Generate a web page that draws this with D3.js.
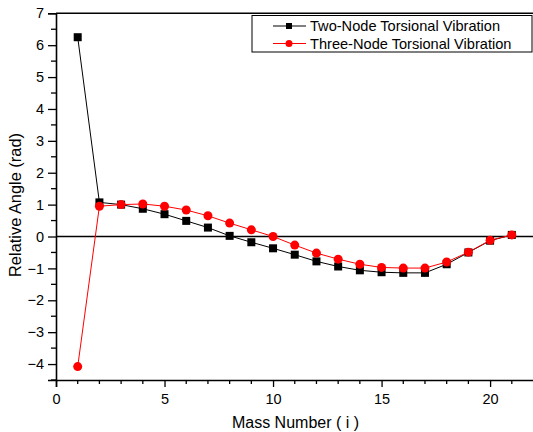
<!DOCTYPE html>
<html>
<head>
<meta charset="utf-8">
<script src="https://cdn.jsdelivr.net/npm/d3@7"></script>
<style>
  body { margin: 0; background: #fff; }
  svg { font-family: "Liberation Sans", Arial, sans-serif; }
</style>
</head>
<body>
<div id="chart"></div>
<script>
// mass numbers and the two vibration modes
const massNumbers = d3.range(1, 22);
const twoNode = [6.25, 1.07, 1.0, 0.87, 0.70, 0.49, 0.28, 0.02, -0.18, -0.37, -0.57, -0.78, -0.94, -1.06, -1.12, -1.14, -1.14, -0.87, -0.50, -0.13, 0.05];
const threeNode = [-4.08, 0.95, 1.0, 1.02, 0.95, 0.83, 0.65, 0.42, 0.21, 0.0, -0.27, -0.52, -0.71, -0.87, -0.97, -0.99, -0.99, -0.80, -0.49, -0.12, 0.05];
const xTicks = [0, 5, 10, 15, 20];
const yTicks = [-4, -3, -2, -1, 0, 1, 2, 3, 4, 5, 6, 7];
const seriesNames = ['Two-Node Torsional Vibration', 'Three-Node Torsional Vibration'];

const width = 533, height = 432;
const svg = d3.select('#chart').append('svg')
    .attr('width', width).attr('height', height);

const x = d3.scaleLinear().domain([0, 22]).range([56, 533.5]);
const y = d3.scaleLinear().domain([-4.5, 7]).range([380, 13.3]);

// top border
svg.append('line').attr('x1', x(0)).attr('x2', width).attr('y1', y(7)).attr('y2', y(7))
    .attr('stroke', '#000').attr('stroke-width', 1.5);

const xAxis = d3.axisBottom(x).tickValues(xTicks).tickSize(7).tickPadding(7);
const gx = svg.append('g').attr('transform', `translate(0,${y(-4.5)})`).call(xAxis);
// minor x ticks
svg.append('g').selectAll('line')
    .data(d3.range(1, 22).filter(d => d % 5 !== 0))
    .join('line')
    .attr('x1', d => x(d)).attr('x2', d => x(d))
    .attr('y1', y(-4.5)).attr('y2', y(-4.5) + 4)
    .attr('stroke', '#000').attr('stroke-width', 1.3);

const yAxis = d3.axisLeft(y).tickValues(yTicks).tickSize(8).tickPadding(4);
const gy = svg.append('g').attr('transform', `translate(${x(0)},0)`).call(yAxis);
// minor y ticks
svg.append('g').selectAll('line')
    .data(d3.range(-4.5, 7, 1))
    .join('line')
    .attr('x1', x(0) - 5).attr('x2', x(0))
    .attr('y1', d => y(d)).attr('y2', d => y(d))
    .attr('stroke', '#000').attr('stroke-width', 1.3);

[gx, gy].forEach(g => {
    g.select('.domain').attr('stroke-width', 1.6);
    g.selectAll('.tick line').attr('stroke-width', 1.3);
    g.selectAll('.tick text').attr('font-size', 14.5).attr('fill', '#000')
        .attr('font-family', '"Liberation Sans", Arial, sans-serif');
});

// zero line
svg.append('line').attr('x1', x(0)).attr('x2', width).attr('y1', y(0)).attr('y2', y(0))
    .attr('stroke', '#000').attr('stroke-width', 1.3);

// axis titles
svg.append('text').attr('x', 295.5).attr('y', 428).attr('text-anchor', 'middle')
    .attr('font-size', 16).text('Mass Number ( i )');
svg.append('text').attr('transform', 'translate(21,205) rotate(-90)')
    .attr('text-anchor', 'middle').attr('font-size', 16.4).text('Relative Angle (rad)');

const line = d3.line().x((d, i) => x(massNumbers[i])).y(d => y(d));

// series
svg.append('path').datum(twoNode).attr('d', line)
    .attr('fill', 'none').attr('stroke', '#000').attr('stroke-width', 1);
svg.append('path').datum(threeNode).attr('d', line)
    .attr('fill', 'none').attr('stroke', '#ff0000').attr('stroke-width', 1);

const sq = 8;
svg.append('g').selectAll('rect').data(twoNode).join('rect')
    .attr('x', (d, i) => x(massNumbers[i]) - sq / 2)
    .attr('y', d => y(d) - sq / 2)
    .attr('width', sq).attr('height', sq).attr('fill', '#000');
svg.append('g').selectAll('circle').data(threeNode).join('circle')
    .attr('cx', (d, i) => x(massNumbers[i]))
    .attr('cy', d => y(d))
    .attr('r', 4.5).attr('fill', '#ff0000');

// legend
const lg = svg.append('g');
lg.append('rect').attr('x', 252).attr('y', 15.5).attr('width', 280).attr('height', 36.5)
    .attr('fill', '#fff').attr('stroke', '#000').attr('stroke-width', 1);
const colors = ['#000', '#ff0000'];
seriesNames.forEach((name, i) => {
    const ly = 26 + i * 17.5;
    lg.append('line').attr('x1', 273).attr('x2', 306).attr('y1', ly).attr('y2', ly)
        .attr('stroke', colors[i]).attr('stroke-width', 1);
    if (i === 0) {
        lg.append('rect').attr('x', 286).attr('y', ly - 3).attr('width', 6).attr('height', 6).attr('fill', '#000');
    } else {
        lg.append('circle').attr('cx', 289).attr('cy', ly).attr('r', 3.5).attr('fill', '#ff0000');
    }
    lg.append('text').attr('x', 310).attr('y', ly + 5).attr('font-size', 14.6).text(name);
});
</script>
</body>
</html>
